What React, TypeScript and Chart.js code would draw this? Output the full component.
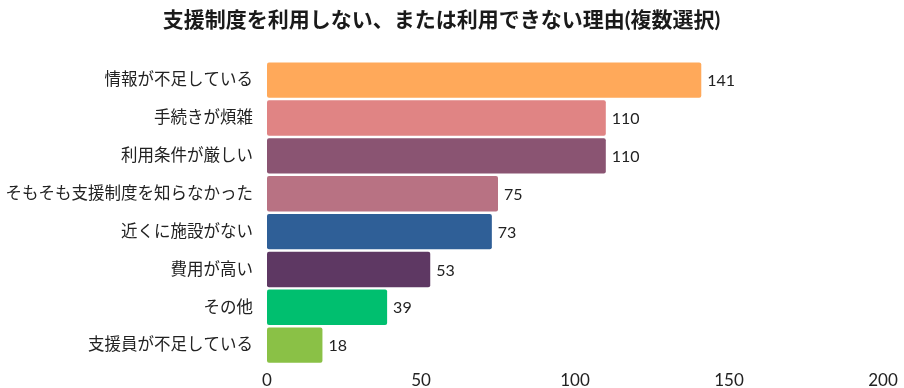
import React, { useEffect, useRef } from "react";
import { Chart, registerables } from "chart.js";

Chart.register(...registerables);

const title = "支援制度を利用しない、または利用できない理由(複数選択)";
const categories = [
  "情報が不足している",
  "手続きが煩雑",
  "利用条件が厳しい",
  "そもそも支援制度を知らなかった",
  "近くに施設がない",
  "費用が高い",
  "その他",
  "支援員が不足している",
];
const values = [141, 110, 110, 75, 73, 53, 39, 18];
const colors = [
  "#FFA95A",
  "#E08484",
  "#8A5472",
  "#B87283",
  "#2F5F97",
  "#5E3863",
  "#00BF6F",
  "#8AC146",
];
const xTicks = [0, 50, 100, 150, 200];

const FONT = "Lato, 'Noto Sans CJK JP', sans-serif";

const valueLabels = {
  id: "valueLabels",
  afterDatasetsDraw(chart: any) {
    const ctx = chart.ctx;
    const meta = chart.getDatasetMeta(0);
    ctx.save();
    ctx.font = `16px ${FONT}`;
    ctx.fillStyle = "#222";
    ctx.textAlign = "left";
    ctx.textBaseline = "middle";
    meta.data.forEach((bar: any, i: number) => {
      ctx.fillText(String(values[i]), bar.x + 6, bar.y + 1);
    });
    ctx.restore();
  },
};

export default function App() {
  const ref = useRef<HTMLCanvasElement>(null);
  useEffect(() => {
    document.body.style.margin = "0";
    const chart = new Chart(ref.current!, {
      type: "bar",
      data: {
        labels: categories,
        datasets: [
          {
            data: values,
            backgroundColor: colors,
            borderRadius: 2,
            borderSkipped: false,
            barPercentage: 0.934,
            categoryPercentage: 1,
          },
        ],
      },
      options: {
        indexAxis: "y",
        animation: false,
        responsive: false,
        maintainAspectRatio: false,
        layout: { padding: { left: 0, right: 21, top: 0, bottom: 0 } },
        plugins: {
          legend: { display: false },
          tooltip: { enabled: false },
          title: {
            display: true,
            text: title,
            color: "#1a1a1a",
            font: { family: FONT, size: 21, weight: "bold" },
            padding: { top: 8, bottom: 28 },
          },
        },
        scales: {
          x: {
            min: 0,
            max: 200,
            afterBuildTicks: (scale: any) => {
              scale.ticks = xTicks.map((v) => ({ value: v }));
            },
            afterFit: (scale: any) => {
              scale.height = 22;
            },
            grid: { display: false, drawTicks: false },
            border: { display: false },
            ticks: {
              color: "#222",
              font: { family: FONT, size: 17 },
              padding: 6,
              maxRotation: 0,
            },
          },
          y: {
            grid: { display: false, drawTicks: false },
            border: { display: false },
            afterFit: (scale: any) => {
              scale.width = 267;
            },
            ticks: {
              color: "#222",
              font: { family: FONT, size: 16.5 },
              padding: 14,
            },
          },
        },
      },
      plugins: [valueLabels],
    });
    return () => chart.destroy();
  }, []);
  return (
    <div style={{ width: 904, height: 388 }}>
      <canvas ref={ref} width={904} height={388} style={{ display: "block" }} />
    </div>
  );
}
